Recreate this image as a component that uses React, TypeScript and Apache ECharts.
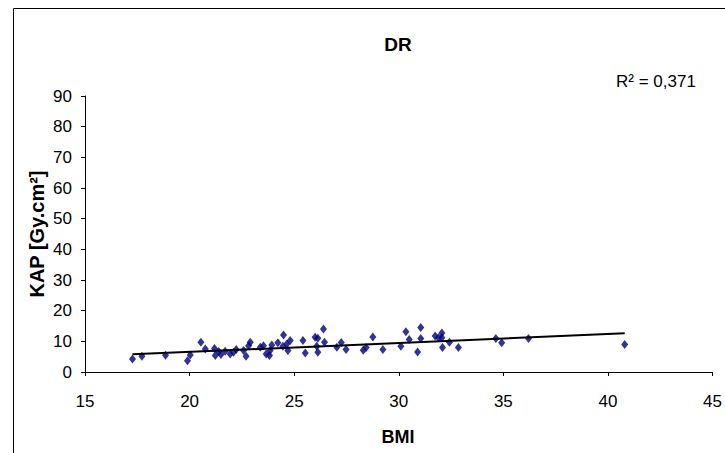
import React, { useEffect, useRef } from "react";
import * as echarts from "echarts";

const xTicks = [15, 20, 25, 30, 35, 40, 45];
const yTicks = [0, 10, 20, 30, 40, 50, 60, 70, 80, 90];

const bmi = [
  17.27, 17.72, 18.85, 19.9, 20.03, 20.54, 20.75, 21.19, 21.23, 21.39, 21.5, 21.7,
  21.94, 22.1, 22.23, 22.58, 22.7, 22.82, 22.9, 23.38, 23.53, 23.66, 23.85, 23.82,
  23.93, 24.22, 24.49, 24.46, 24.65, 24.7, 24.81, 25.42, 25.53, 26.0, 26.13, 26.08,
  26.13, 26.4, 26.45, 27.04, 27.25, 27.48, 28.3, 28.44, 28.76, 29.24, 30.1, 30.34,
  30.5, 30.9, 31.05, 31.05, 31.74, 31.9, 32.06, 32.06, 32.09, 32.42, 32.85, 34.64,
  34.92, 36.2, 40.8,
];
const kap = [
  4.25, 5.1, 5.45, 3.7, 5.55, 9.7, 7.5, 7.7, 5.35, 6.65, 5.7, 6.75,
  5.9, 6.4, 7.3, 7.0, 5.1, 8.6, 9.7, 8.05, 8.6, 5.9, 7.0, 5.35,
  8.8, 9.5, 12.1, 8.4, 9.15, 7.0, 10.25, 10.25, 6.2, 11.3, 11.0, 8.4,
  6.4, 14.0, 9.7, 8.05, 9.6, 7.3, 7.1, 7.95, 11.4, 7.3, 8.4, 13.1,
  10.6, 6.5, 14.5, 10.9, 11.75, 11.2, 12.7, 11.2, 7.95, 9.7, 7.95, 10.9,
  9.5, 10.9, 9.0,
];
const trendBmi = [17.27, 40.8];
const trendKap = [5.75, 12.65];

const titleText = "DR";
const xName = "BMI";
const yName = "KAP [Gy.cm²]";
const r2Text = "R² = 0,371";

const FONT = "'Liberation Sans', Arial, sans-serif";

export default function App() {
  const ref = useRef<HTMLDivElement>(null);
  useEffect(() => {
    document.body.style.margin = "0";
    const chart = echarts.init(ref.current!, null, { renderer: "svg" });
    chart.setOption({
      animation: false,
      backgroundColor: "#ffffff",
      grid: { left: 85, top: 96, right: 12, bottom: 81, containLabel: false },
      xAxis: {
        type: "value",
        min: xTicks[0],
        max: xTicks[xTicks.length - 1],
        interval: 5,
        axisLine: { show: true, lineStyle: { color: "#000", width: 1 } },
        axisTick: { show: true, inside: false, length: 4, lineStyle: { color: "#000" } },
        splitLine: { show: false },
        axisLabel: { color: "#000", fontSize: 17, fontFamily: FONT, margin: 21 },
      },
      yAxis: {
        type: "value",
        min: yTicks[0],
        max: yTicks[yTicks.length - 1],
        interval: 10,
        axisLine: { show: true, lineStyle: { color: "#000", width: 1 } },
        axisTick: { show: true, inside: false, length: 4, lineStyle: { color: "#000" } },
        splitLine: { show: false },
        axisLabel: { color: "#000", fontSize: 17, fontFamily: FONT, margin: 13 },
      },
      series: [
        {
          type: "scatter",
          data: bmi.map((x, i) => [x, kap[i]]),
          symbol: "diamond",
          symbolSize: [7, 9],
          itemStyle: { color: "#00007a" },
          z: 2,
        },
        {
          type: "line",
          data: trendBmi.map((x, i) => [x, trendKap[i]]),
          symbol: "none",
          lineStyle: { color: "#000", width: 2 },
          z: 3,
        },
      ],
      graphic: [
        {
          type: "rect",
          shape: { x: 13.5, y: 8.5, width: 800, height: 600 },
          style: { fill: "none", stroke: "#000", lineWidth: 1 },
          z: -1,
          silent: true,
        },
        {
          type: "text",
          x: 398,
          y: 44,
          style: {
            text: titleText,
            font: `bold 19px ${FONT}`,
            fill: "#000",
            textAlign: "center",
            textVerticalAlign: "middle",
          },
        },
        {
          type: "text",
          x: 398,
          y: 437,
          style: {
            text: xName,
            font: `bold 18px ${FONT}`,
            fill: "#000",
            textAlign: "center",
            textVerticalAlign: "middle",
          },
        },
        {
          type: "text",
          x: 37,
          y: 234,
          rotation: Math.PI / 2,
          style: {
            text: yName,
            font: `bold 20px ${FONT}`,
            fill: "#000",
            textAlign: "center",
            textVerticalAlign: "middle",
          },
        },
        {
          type: "text",
          x: 616,
          y: 81,
          style: {
            text: r2Text,
            font: `17px ${FONT}`,
            fill: "#000",
            textAlign: "left",
            textVerticalAlign: "middle",
          },
        },
      ],
    });
    return () => chart.dispose();
  }, []);
  return <div ref={ref} style={{ width: 725, height: 453 }} />;
}
